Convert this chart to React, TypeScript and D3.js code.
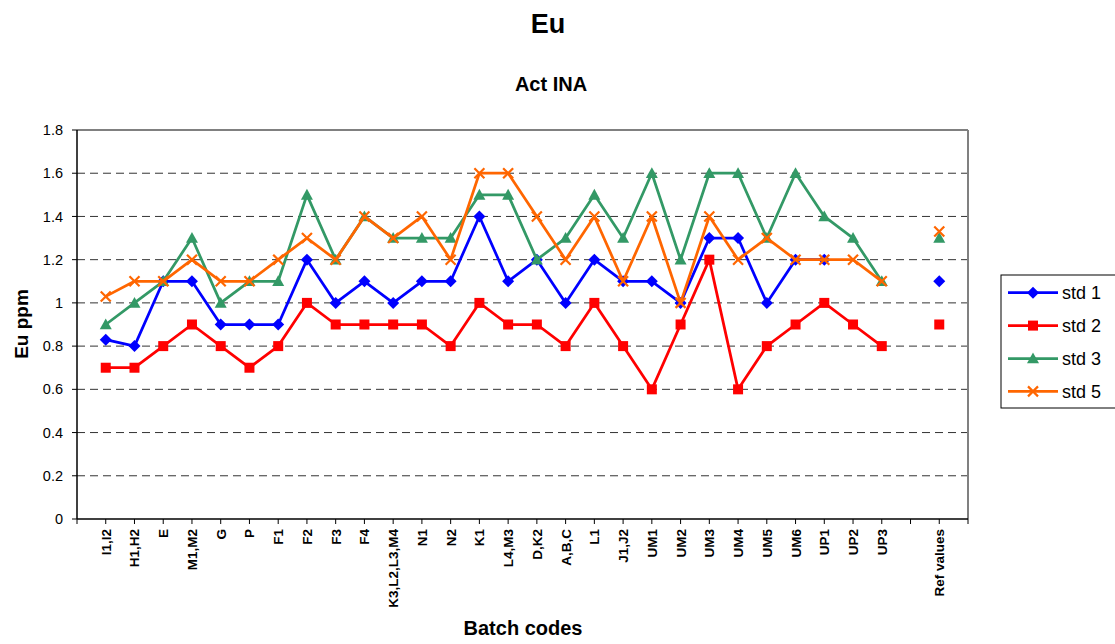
import React from "react";
import * as d3 from "d3";

const categories = ["I1,I2","H1,H2","E","M1,M2","G","P","F1","F2","F3","F4","K3,L2,L3,M4","N1","N2","K1","L4,M3","D,K2","A,B,C","L1","J1,J2","UM1","UM2","UM3","UM4","UM5","UM6","UP1","UP2","UP3","","Ref values"];

const std1 = [0.83,0.8,1.1,1.1,0.9,0.9,0.9,1.2,1.0,1.1,1.0,1.1,1.1,1.4,1.1,1.2,1.0,1.2,1.1,1.1,1.0,1.3,1.3,1.0,1.2,1.2,null,null,null,1.1];
const std2 = [0.7,0.7,0.8,0.9,0.8,0.7,0.8,1.0,0.9,0.9,0.9,0.9,0.8,1.0,0.9,0.9,0.8,1.0,0.8,0.6,0.9,1.2,0.6,0.8,0.9,1.0,0.9,0.8,null,0.9];
const std3 = [0.9,1.0,1.1,1.3,1.0,1.1,1.1,1.5,1.2,1.4,1.3,1.3,1.3,1.5,1.5,1.2,1.3,1.5,1.3,1.6,1.2,1.6,1.6,1.3,1.6,1.4,1.3,1.1,null,1.3];
const std5 = [1.03,1.1,1.1,1.2,1.1,1.1,1.2,1.3,1.2,1.4,1.3,1.4,1.2,1.6,1.6,1.4,1.2,1.4,1.1,1.4,1.0,1.4,1.2,1.3,1.2,1.2,1.2,1.1,null,1.33];

const seriesNames = ["std 1","std 2","std 3","std 5"];
const seriesValues = [std1, std2, std3, std5];
const seriesColors = ["#0000FF","#FF0000","#339966","#FF6600"];
const seriesMarkers = ["diamond","square","triangle","x"];

const yTicks = [0,0.2,0.4,0.6,0.8,1,1.2,1.4,1.6,1.8];

const FONT = "'Liberation Sans', Arial, sans-serif";

function Marker({ kind, x, y, color }: { kind: string; x: number; y: number; color: string }) {
  if (kind === "diamond") {
    const r = 6;
    return <path d={`M${x},${y - r}L${x + r},${y}L${x},${y + r}L${x - r},${y}Z`} fill={color} />;
  }
  if (kind === "square") {
    const s = 5;
    return <rect x={x - s} y={y - s} width={2 * s} height={2 * s} fill={color} />;
  }
  if (kind === "triangle") {
    const s = 6;
    return <path d={`M${x},${y - s}L${x + s},${y + s * 0.8}L${x - s},${y + s * 0.8}Z`} fill={color} />;
  }
  const s = 5;
  return (
    <path d={`M${x - s},${y - s}L${x + s},${y + s}M${x - s},${y + s}L${x + s},${y - s}`} stroke={color} strokeWidth={2.2} fill="none" />
  );
}

export default function App() {
  const left = 77, right = 968, top = 130, bottom = 519;
  const x = d3.scaleLinear().domain([-1, categories.length]).range([left, right]);
  const y = d3.scaleLinear().domain([0, 1.8]).range([bottom, top]);
  const line = d3.line<number | null>()
    .defined((d) => d !== null)
    .x((_, i) => x(i))
    .y((d) => y(d as number));

  const tickIdx = d3.range(-1, categories.length + 1);

  return (
    <svg width={1115} height={644} style={{ position: "absolute", left: 0, top: 0, background: "#fff" }} fontFamily={FONT}>
      <text x={548} y={33} textAnchor="middle" fontSize={27} fontWeight="bold">Eu</text>
      <text x={551} y={91} textAnchor="middle" fontSize={20} fontWeight="bold">Act INA</text>

      {/* gridlines */}
      {yTicks.filter((t) => t > 0 && t < 1.8).map((t) => (
        <line key={t} x1={left} x2={right} y1={y(t)} y2={y(t)} stroke="#333" strokeWidth={1} strokeDasharray="8,5" />
      ))}
      {/* plot border */}
      <line x1={left} x2={right} y1={top} y2={top} stroke="#808080" strokeWidth={2} />
      <line x1={right} x2={right} y1={top} y2={bottom} stroke="#808080" strokeWidth={2} />

      {/* axes */}
      <line x1={left} x2={left} y1={top} y2={bottom} stroke="#000" strokeWidth={1.5} />
      <line x1={left} x2={right} y1={bottom} y2={bottom} stroke="#000" strokeWidth={1.5} />
      {yTicks.map((t) => (
        <g key={t}>
          <line x1={left - 5} x2={left} y1={y(t)} y2={y(t)} stroke="#000" strokeWidth={1} />
          <text x={63} y={y(t)} dy="0.35em" textAnchor="end" fontSize={14.5}>{String(t)}</text>
        </g>
      ))}
      {tickIdx.map((i) => (
        <line key={i} x1={x(i)} x2={x(i)} y1={bottom} y2={bottom + 5} stroke="#000" strokeWidth={1} />
      ))}
      {categories.map((c, i) => c ? (
        <text key={i} transform={`translate(${x(i) + 5},${529}) rotate(-90)`} textAnchor="end" fontSize={13.5} fontWeight="bold">{c}</text>
      ) : null)}

      <text transform={`translate(28,${324}) rotate(-90)`} textAnchor="middle" fontSize={19} fontWeight="bold">Eu ppm</text>
      <text x={523} y={635} textAnchor="middle" fontSize={20} fontWeight="bold">Batch codes</text>

      {/* series */}
      {seriesValues.map((vals, si) => (
        <g key={si}>
          <path d={line(vals) || ""} fill="none" stroke={seriesColors[si]} strokeWidth={2.75} strokeLinejoin="round" />
          {vals.map((v, i) => v === null ? null : (
            <Marker key={i} kind={seriesMarkers[si]} x={x(i)} y={y(v)} color={seriesColors[si]} />
          ))}
        </g>
      ))}

      {/* legend */}
      <rect x={1001} y={275} width={130} height={133} fill="#fff" stroke="#000" strokeWidth={1} />
      {seriesNames.map((n, si) => {
        const ly = 292.7 + si * 32.9;
        return (
          <g key={n}>
            <line x1={1008} x2={1058} y1={ly} y2={ly} stroke={seriesColors[si]} strokeWidth={2.75} />
            <Marker kind={seriesMarkers[si]} x={1033} y={ly} color={seriesColors[si]} />
            <text x={1062} y={ly} dy="0.35em" fontSize={18}>{n}</text>
          </g>
        );
      })}
    </svg>
  );
}
